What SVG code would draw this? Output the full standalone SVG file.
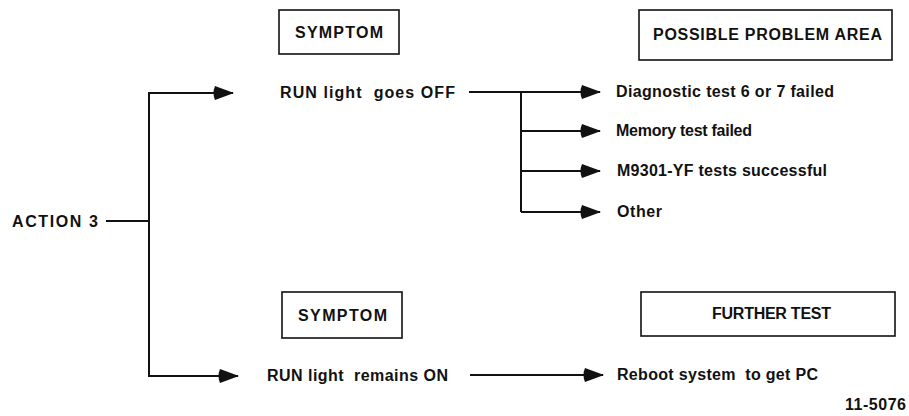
<svg xmlns="http://www.w3.org/2000/svg" width="909" height="416" viewBox="0 0 909 416">
<defs>
<style>
text{font-family:"Liberation Sans",Arial,sans-serif;font-weight:bold;font-size:16px;fill:#111}
.box{fill:none;stroke:#111;stroke-width:1.6}
.ln{fill:none;stroke:#111;stroke-width:2;marker-end:url(#ah)}
.pl{fill:none;stroke:#111;stroke-width:2}
</style>
<marker id="ah" markerUnits="userSpaceOnUse" markerWidth="24" markerHeight="18" refX="21" refY="9" orient="auto">
<path d="M3,2 Q0,9 3,16 L22,9 Z" fill="#111"/>
</marker>
</defs>
<rect width="909" height="416" fill="#fff"/>
<g id="connectors">
<line class="pl" x1="106" y1="221" x2="149" y2="221"/>
<polyline class="pl" points="220,93 149,93 149,376 225,376"/>
<line class="ln" x1="149" y1="93" x2="233" y2="93"/>
<line class="ln" x1="149" y1="376" x2="238" y2="376"/>
<line class="ln" x1="469" y1="92" x2="600" y2="92"/>
<polyline class="pl" points="521,92 521,212"/>
<line class="ln" x1="521" y1="131" x2="600" y2="131"/>
<line class="ln" x1="521" y1="171" x2="600" y2="171"/>
<line class="ln" x1="521" y1="212" x2="600" y2="212"/>
<line class="ln" x1="470" y1="375" x2="603" y2="375"/>
</g>
<g id="action3"><text x="12" y="227" textLength="86" lengthAdjust="spacing">ACTION 3</text></g>
<g id="symptom1"><rect class="box" x="279" y="10" width="120" height="44"/><text x="295" y="38" textLength="88" lengthAdjust="spacing">SYMPTOM</text></g>
<g id="problem-area"><rect class="box" x="639" y="10" width="253" height="50"/><text x="653" y="40" textLength="229" lengthAdjust="spacing">POSSIBLE PROBLEM AREA</text></g>
<g id="run-off"><text x="280" y="98" textLength="175" lengthAdjust="spacing" xml:space="preserve">RUN light  goes OFF</text></g>
<g id="diag"><text x="616" y="97" textLength="218" lengthAdjust="spacing">Diagnostic test 6 or 7 failed</text></g>
<g id="memory"><text x="616" y="136" textLength="136" lengthAdjust="spacing">Memory test failed</text></g>
<g id="m9301"><text x="617" y="176" textLength="210" lengthAdjust="spacing">M9301-YF tests successful</text></g>
<g id="other"><text x="617" y="217" textLength="45" lengthAdjust="spacing">Other</text></g>
<g id="symptom2"><rect class="box" x="282" y="292" width="120" height="46"/><text x="298" y="321" textLength="89" lengthAdjust="spacing">SYMPTOM</text></g>
<g id="further-test"><rect class="box" x="641" y="292" width="254" height="44"/><text x="712" y="319" textLength="119" lengthAdjust="spacing">FURTHER TEST</text></g>
<g id="run-on"><text x="267" y="381" textLength="181" lengthAdjust="spacing" xml:space="preserve">RUN light  remains ON</text></g>
<g id="reboot"><text x="617" y="380" textLength="201" lengthAdjust="spacing" xml:space="preserve">Reboot system  to get PC</text></g>
<g id="fig-num"><text x="845" y="410" textLength="61" lengthAdjust="spacing">11-5076</text></g>
</svg>
